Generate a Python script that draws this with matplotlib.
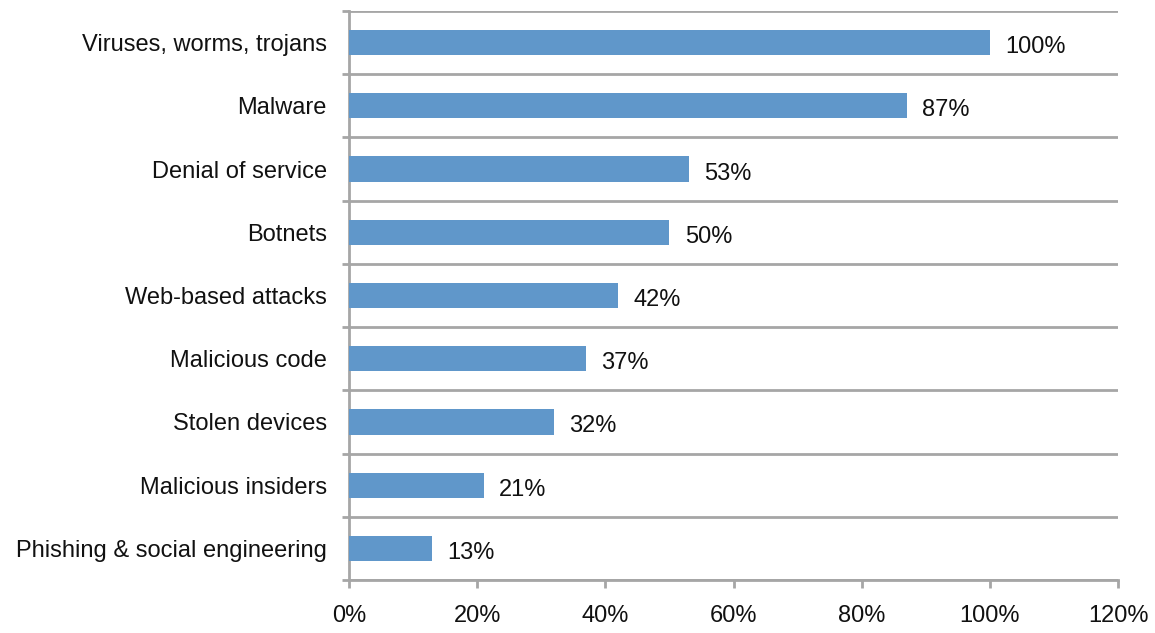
import matplotlib
matplotlib.use("Agg")
import matplotlib.pyplot as plt
from matplotlib.ticker import FixedLocator, PercentFormatter
from matplotlib.transforms import ScaledTranslation

plt.rcParams['font.family'] = ['Liberation Sans', 'DejaVu Sans']

categories = [
    "Viruses, worms, trojans",
    "Malware",
    "Denial of service",
    "Botnets",
    "Web-based attacks",
    "Malicious code",
    "Stolen devices",
    "Malicious insiders",
    "Phishing & social engineering",
]
values = [100, 87, 53, 50, 42, 37, 32, 21, 13]
x_ticks = [0, 20, 40, 60, 80, 100, 120]

bar_color = "#6097CA"
grid_color = "#A6A6A6"
text_color = "#111111"
fs = 17

fig = plt.figure(figsize=(11.55, 6.33), dpi=100)
ax = fig.add_axes([349 / 1155, 53 / 633, 769 / 1155, 569 / 633])

n = len(categories)
ypos = list(range(n))
ax.barh(ypos, values, height=0.4, color=bar_color, zorder=3)

# value labels sit a touch below the bar centre
shift = ScaledTranslation(0, -2 / 100, fig.dpi_scale_trans)
for y, v in zip(ypos, values):
    ax.text(v + 2.4, y, f"{v}%", va="center_baseline", ha="left", fontsize=fs,
            color=text_color, zorder=4, transform=ax.transData + shift)

ax.set_xlim(0, 120)
ax.set_ylim(n - 0.5, -0.5)

ax.set_yticks(ypos)
ax.set_yticklabels(categories, fontsize=fs, color=text_color, va="center_baseline")
ax.tick_params(axis="y", which="major", length=0, pad=16)
ax.yaxis.set_minor_locator(FixedLocator([i - 0.5 for i in range(n + 1)]))
ax.tick_params(axis="y", which="minor", length=5, width=2, color=grid_color, direction="out")
ax.grid(axis="y", which="minor", color=grid_color, linewidth=2, zorder=1)

ax.set_xticks(x_ticks)
ax.xaxis.set_major_formatter(PercentFormatter(decimals=0))
ax.tick_params(axis="x", which="major", length=6, width=2, color=grid_color, pad=12,
               labelsize=fs, labelcolor=text_color)

for side in ("top", "right"):
    ax.spines[side].set_visible(False)
for side in ("left", "bottom"):
    ax.spines[side].set_color(grid_color)
    ax.spines[side].set_linewidth(2)

fig.savefig("out.png", dpi=100, facecolor="white")
